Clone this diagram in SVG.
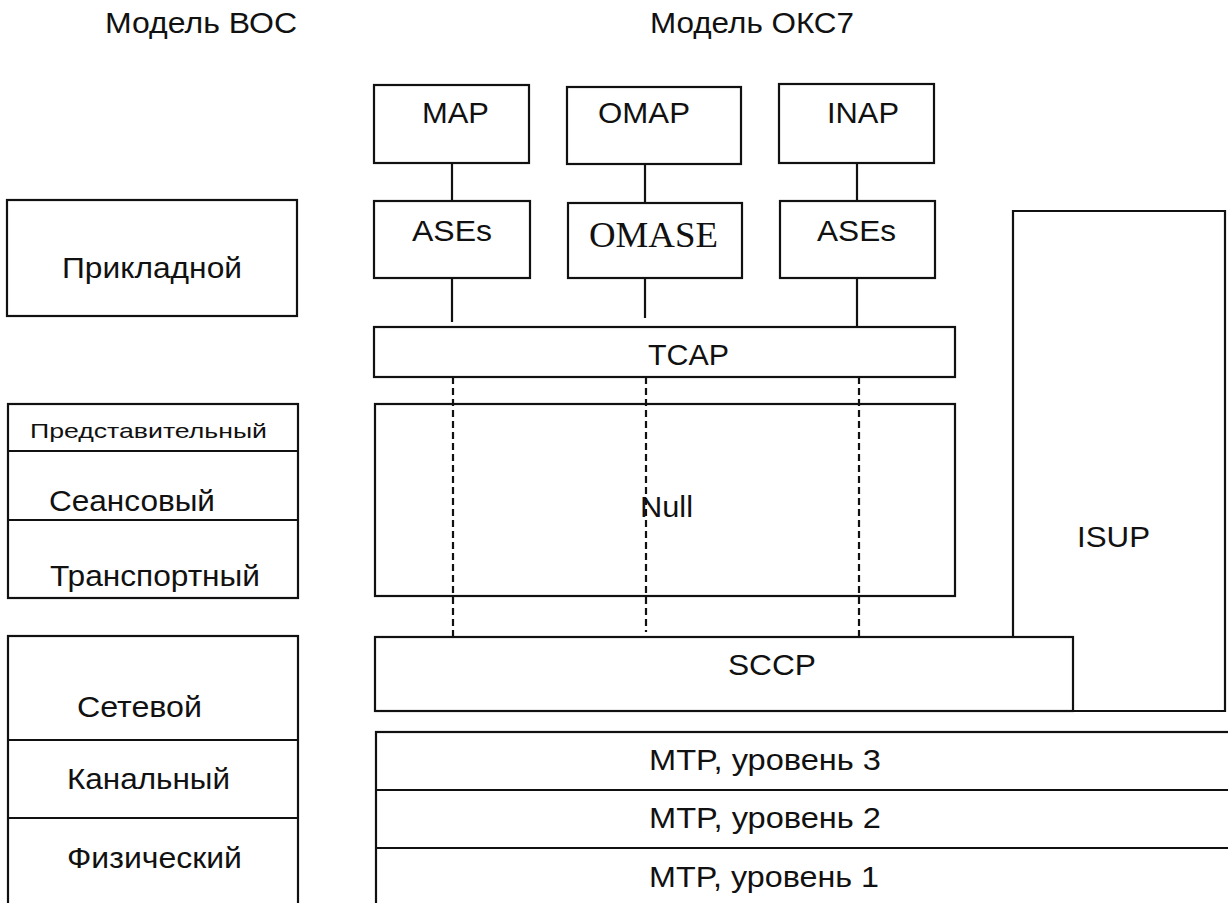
<svg xmlns="http://www.w3.org/2000/svg" width="1228" height="903" viewBox="0 0 1228 903">
<style>
.b{fill:none;stroke:#111;stroke-width:2.2}
.c{stroke:#111;stroke-width:2.2;fill:none}
.d{stroke:#111;stroke-width:2.2;fill:none;stroke-dasharray:7 4}
.t{font-family:"Liberation Sans",Arial,sans-serif;font-size:30px;fill:#111}
.s{font-family:"Liberation Sans",Arial,sans-serif;font-size:21px;fill:#111}
.r{font-family:"Liberation Serif","Times New Roman",serif;font-size:36px;fill:#111}
</style>
<rect width="1228" height="903" fill="#fff"/>
<g id="headings">
<text class="t" x="105" y="33" textLength="192" lengthAdjust="spacingAndGlyphs">Модель ВОС</text>
<text class="t" x="650" y="33" textLength="204" lengthAdjust="spacingAndGlyphs">Модель ОКС7</text>
</g>
<g id="osi-app">
<rect class="b" x="7" y="200" width="290" height="116"/>
<text class="t" x="62" y="278" textLength="180" lengthAdjust="spacingAndGlyphs">Прикладной</text>
</g>
<g id="osi-mid">
<rect class="b" x="8" y="404" width="290" height="194"/>
<line class="c" x1="8" y1="451" x2="298" y2="451"/>
<line class="c" x1="8" y1="520" x2="298" y2="520"/>
<text class="s" x="30" y="438" textLength="237" lengthAdjust="spacingAndGlyphs">Представительный</text>
<text class="t" x="49" y="511" textLength="166" lengthAdjust="spacingAndGlyphs">Сеансовый</text>
<text class="t" x="50" y="586" textLength="210" lengthAdjust="spacingAndGlyphs">Транспортный</text>
</g>
<g id="osi-low">
<rect class="b" x="8" y="636" width="290" height="290"/>
<line class="c" x1="8" y1="740" x2="298" y2="740"/>
<line class="c" x1="8" y1="818" x2="298" y2="818"/>
<text class="t" x="77" y="717" textLength="125" lengthAdjust="spacingAndGlyphs">Сетевой</text>
<text class="t" x="67" y="789" textLength="163" lengthAdjust="spacingAndGlyphs">Канальный</text>
<text class="t" x="67" y="868" textLength="175" lengthAdjust="spacingAndGlyphs">Физический</text>
</g>
<g id="connectors">
<line class="c" x1="452" y1="163" x2="452" y2="201"/>
<line class="c" x1="645" y1="164" x2="645" y2="203"/>
<line class="c" x1="857" y1="163" x2="857" y2="201"/>
<line class="c" x1="452" y1="278" x2="452" y2="322"/>
<line class="c" x1="645" y1="278" x2="645" y2="318"/>
<line class="c" x1="857" y1="278" x2="857" y2="327"/>
<line class="d" x1="453" y1="377" x2="453" y2="637"/>
<line class="d" x1="646" y1="377" x2="646" y2="632"/>
<line class="d" x1="859" y1="377" x2="859" y2="637"/>
</g>
<g id="map">
<rect class="b" x="374" y="85" width="155" height="78"/>
<text class="t" x="422" y="123" textLength="67" lengthAdjust="spacingAndGlyphs">MAP</text>
</g>
<g id="omap">
<rect class="b" x="567" y="87" width="174" height="77"/>
<text class="t" x="598" y="123" textLength="92" lengthAdjust="spacingAndGlyphs">OMAP</text>
</g>
<g id="inap">
<rect class="b" x="779" y="84" width="155" height="79"/>
<text class="t" x="827" y="123" textLength="72" lengthAdjust="spacingAndGlyphs">INAP</text>
</g>
<g id="ases1">
<rect class="b" x="374" y="201" width="156" height="77"/>
<text class="t" x="412" y="241" textLength="80" lengthAdjust="spacingAndGlyphs">ASEs</text>
</g>
<g id="omase">
<rect class="b" x="568" y="203" width="174" height="75"/>
<text class="r" x="589" y="247" textLength="129" lengthAdjust="spacingAndGlyphs">OMASE</text>
</g>
<g id="ases2">
<rect class="b" x="780" y="201" width="155" height="77"/>
<text class="t" x="817" y="241" textLength="79" lengthAdjust="spacingAndGlyphs">ASEs</text>
</g>
<g id="tcap">
<rect class="b" x="374" y="327" width="581" height="50"/>
<text class="t" x="648" y="365" textLength="81" lengthAdjust="spacingAndGlyphs">TCAP</text>
</g>
<g id="null">
<rect class="b" x="375" y="404" width="580" height="192"/>
<text class="t" x="640" y="517" textLength="53" lengthAdjust="spacingAndGlyphs">Null</text>
</g>
<g id="isup">
<path class="b" d="M1013,637 V211 H1225 V711 H1073"/>
<text class="t" x="1077" y="547" textLength="73" lengthAdjust="spacingAndGlyphs">ISUP</text>
</g>
<g id="sccp">
<rect class="b" x="375" y="637" width="698" height="74"/>
<text class="t" x="728" y="675" textLength="88" lengthAdjust="spacingAndGlyphs">SCCP</text>
</g>
<g id="mtp">
<rect class="b" x="376" y="732" width="880" height="200"/>
<line class="c" x1="376" y1="790" x2="1228" y2="790"/>
<line class="c" x1="376" y1="848" x2="1228" y2="848"/>
<text class="t" x="649" y="770" textLength="232" lengthAdjust="spacingAndGlyphs">MTP, уровень 3</text>
<text class="t" x="649" y="828" textLength="232" lengthAdjust="spacingAndGlyphs">MTP, уровень 2</text>
<text class="t" x="649" y="887" textLength="230" lengthAdjust="spacingAndGlyphs">MTP, уровень 1</text>
</g>
</svg>
